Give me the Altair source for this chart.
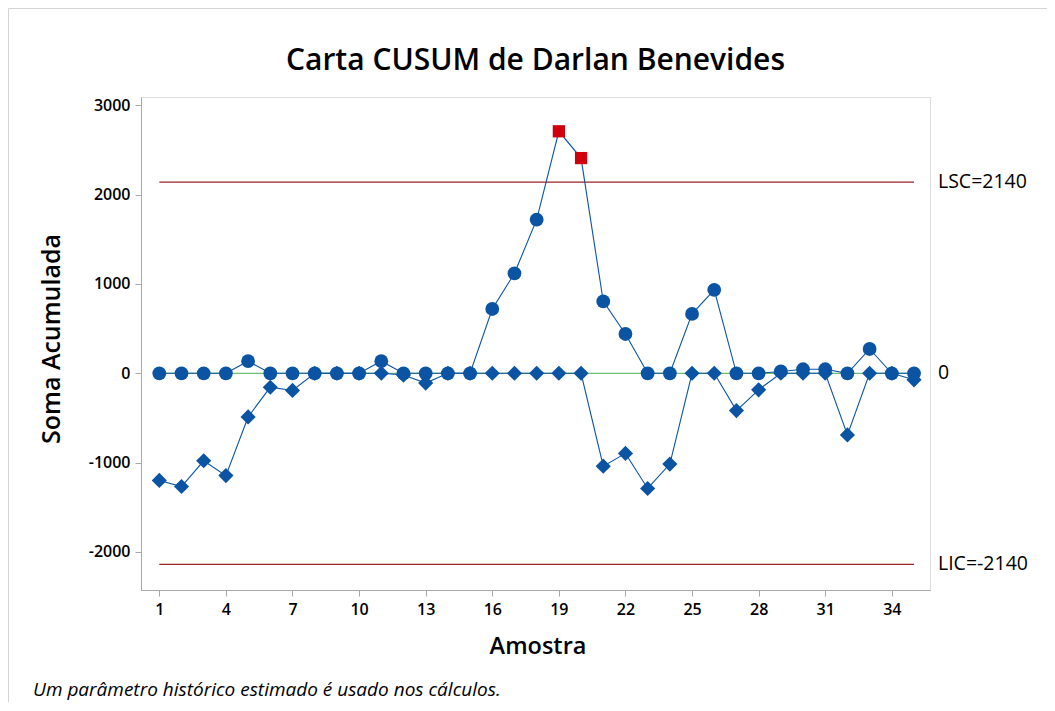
import altair as alt
import pandas as pd

# ---- data ----
amostras = list(range(1, 36))
cusum_superior = [0, 0, 0, 0, 135, 0, 0, 0, 0, 0, 135, 0, 0, 0, 0,
                  720, 1120, 1720, 2710, 2410, 805, 440, 0, 0, 665, 935,
                  0, 0, 20, 45, 45, 0, 272, 0, 0]
cusum_inferior = [-1200, -1268, -980, -1146, -489, -156, -192, 0, 0, 0, 0,
                  -20, -110, 0, 0, 0, 0, 0, 0, 0, -1040, -897, -1290, -1017,
                  0, 0, -418, -185, 0, 0, 0, -690, 0, 0, -73]
limite_nomes = ["LSC", "0", "LIC"]
limite_valores = [2140, 0, -2140]
limite_rotulos = ["LSC=2140", "0", "LIC=-2140"]
x_ticks = list(range(1, 36, 3))
y_ticks = [-2000, -1000, 0, 1000, 2000, 3000]

LSC = limite_valores[0]
LIC = limite_valores[2]

rows = []
for a, s, i in zip(amostras, cusum_superior, cusum_inferior):
    rows.append({"Amostra": a, "Valor": s, "Serie": "Superior",
                 "Fora": bool(s > LSC or s < LIC)})
    rows.append({"Amostra": a, "Valor": i, "Serie": "Inferior",
                 "Fora": bool(i > LSC or i < LIC)})
df = pd.DataFrame(rows)

lim = pd.DataFrame({"Nome": limite_nomes, "Valor": limite_valores,
                    "Rotulo": limite_rotulos,
                    "Inicio": [amostras[0]] * 3, "Fim": [amostras[-1]] * 3})

W, H = 789, 493
FONT = "Open Sans"
BLUE = "#0B54A4"
RED_LINE = "#9C2228"
GREEN = "#6DBE6D"

xscale = alt.Scale(domain=[0.175, 35.72], nice=False, zero=False)
yscale = alt.Scale(domain=[-2427, 3094], nice=False, zero=False)

xaxis = alt.Axis(values=x_ticks, title="Amostra", grid=False,
                 labelFontSize=16, labelFontWeight=600, labelFont=FONT,
                 labelColor="black", labelPadding=5, tickSize=6,
                 tickColor="#A8A8A8", domainColor="#A8A8A8",
                 titleFontSize=23.5, titleFontWeight=600, titleFont=FONT,
                 titleColor="black", titleX=W / 2 + 2, titleY=63,
                 titleBaseline="alphabetic")
yaxis = alt.Axis(values=y_ticks, title="Soma Acumulada", grid=False,
                 labelExpr="'' + datum.value",
                 labelFontSize=16, labelFontWeight=600, labelFont=FONT,
                 labelColor="black", labelPadding=5, tickSize=6,
                 tickColor="#A8A8A8", domainColor="#A8A8A8",
                 titleFontSize=25, titleFontWeight=600, titleFont=FONT,
                 titleColor="black", titleX=-90, titleY=H / 2 - 5,
                 titleAngle=-90, titleBaseline="middle")

base = alt.Chart(df)

# outer light-grey figure frame (decoration)
moldura = alt.Chart(pd.DataFrame({"k": [0]})).mark_rect(
    filled=False, stroke="#D4D4D4", strokeWidth=1
).encode(x=alt.value(-132.5), y=alt.value(-88.5),
         x2=alt.value(W + 300), y2=alt.value(H + 300))

limits = alt.Chart(lim).transform_filter(alt.datum.Nome != "0").mark_rule(
    strokeWidth=1.2, color=RED_LINE).encode(
    x=alt.X("Inicio:Q", scale=xscale, axis=xaxis),
    x2="Fim:Q",
    y=alt.Y("Valor:Q", scale=yscale, axis=yaxis),
)

center = alt.Chart(lim).transform_filter(alt.datum.Nome == "0").mark_rule(
    strokeWidth=1.2, color=GREEN).encode(
    x=alt.X("Inicio:Q", scale=xscale),
    x2="Fim:Q",
    y=alt.Y("Valor:Q", scale=yscale),
)

labels = alt.Chart(lim).mark_text(align="left", baseline="middle",
                                  fontSize=19.5, font=FONT, color="black"
                                  ).encode(
    x=alt.value(W + 8),
    y=alt.Y("Valor:Q", scale=yscale),
    text="Rotulo:N",
)

lines = base.mark_line(color=BLUE, strokeWidth=1.1).encode(
    x=alt.X("Amostra:Q", scale=xscale),
    y=alt.Y("Valor:Q", scale=yscale),
    detail="Serie:N",
    order="Amostra:Q",
)

circles = base.transform_filter(
    (alt.datum.Serie == "Superior") & (alt.datum.Fora == False)
).mark_point(shape="circle", filled=True, opacity=1, size=190,
             color=BLUE).encode(
    x=alt.X("Amostra:Q", scale=xscale),
    y=alt.Y("Valor:Q", scale=yscale),
)

diamonds = base.transform_filter(
    (alt.datum.Serie == "Inferior") & (alt.datum.Fora == False)
).mark_point(shape="diamond", filled=True, opacity=1, size=230,
             color=BLUE).encode(
    x=alt.X("Amostra:Q", scale=xscale),
    y=alt.Y("Valor:Q", scale=yscale),
)

squares = base.transform_filter(alt.datum.Fora == True).mark_point(
    shape="square", filled=True, opacity=1, size=150, color="#D0000C"
).encode(
    x=alt.X("Amostra:Q", scale=xscale),
    y=alt.Y("Valor:Q", scale=yscale),
)

nota = alt.Chart(pd.DataFrame({"t": ["Um parâmetro histórico estimado é usado nos cálculos."]})).mark_text(
    align="left", baseline="alphabetic", fontSize=19, font=FONT,
    fontStyle="italic", color="black"
).encode(x=alt.value(33 - 141), y=alt.value(696 - 97), text="t:N")

chart = alt.layer(moldura, limits, center, lines, circles, diamonds, squares,
                  labels, nota).properties(
    width=W, height=H,
    title=alt.TitleParams("Carta CUSUM de Darlan Benevides", fontSize=30,
                          font=FONT, fontWeight=600, color="black",
                          anchor="middle", frame="group",
                          baseline="alphabetic", offset=-88, dy=4),
    padding={"left": 133, "top": 89, "right": 117, "bottom": 112},
    autosize=alt.AutoSizeParams(type="none"),
).configure_view(stroke="#A8A8A8", strokeWidth=1).configure(background="white")

chart.save("out.html", embed_options={"renderer": "svg", "actions": False})
